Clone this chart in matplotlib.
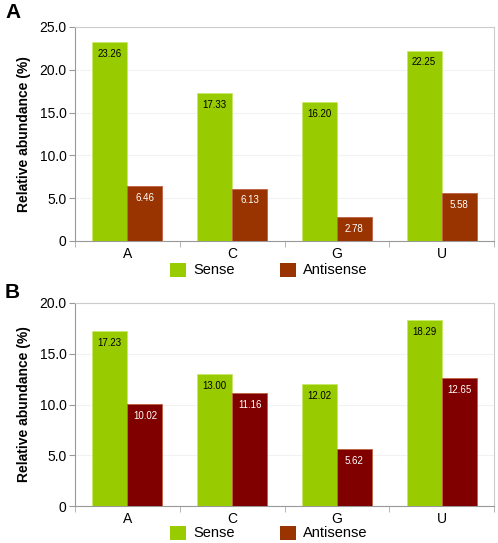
import matplotlib.pyplot as plt
import numpy as np
from matplotlib.patches import Patch

plt.rcParams.update({'font.family': 'Liberation Sans', 'font.size': 10})

# datos
bases = ['A', 'C', 'G', 'U']
sense_a = [23.26, 17.33, 16.20, 22.25]
antisense_a = [6.46, 6.13, 2.78, 5.58]
sense_b = [17.23, 13.00, 12.02, 18.29]
antisense_b = [10.02, 11.16, 5.62, 12.65]

verde = '#99cc00'
marron = '#993300'
granate = '#800000'

fig = plt.figure(figsize=(4.98, 5.43), dpi=100)
W, H = 498, 543


def panel(rect_px, sense, antisense, col_anti, ymax, letra, letra_y, leg_y):
    x0, y0, x1, y1 = rect_px
    ax = fig.add_axes([x0 / W, 1 - y1 / H, (x1 - x0) / W, (y1 - y0) / H])
    x = np.arange(len(bases))
    w = 0.335
    ax.bar(x - w / 2, sense, w, color=verde, edgecolor='#c8e86a', linewidth=0.6, zorder=3)
    ax.bar(x + w / 2, antisense, w, color=col_anti, edgecolor='#c06040', linewidth=0.6, zorder=3)
    for i in range(len(bases)):
        ax.annotate(f'{sense[i]:.2f}', (x[i] - w / 2, sense[i]), xytext=(0, -5),
                    textcoords='offset points', ha='center', va='top', fontsize=7,
                    color='black', zorder=4)
        ax.annotate(f'{antisense[i]:.2f}', (x[i] + w / 2, antisense[i]), xytext=(0, -5),
                    textcoords='offset points', ha='center', va='top', fontsize=7,
                    color='white', zorder=4)
    ax.set_xlim(-0.5, 3.5)
    ax.set_ylim(0, ymax)
    ticks = np.arange(0, ymax + 0.1, 5)
    ax.set_yticks(ticks)
    ax.set_yticklabels(['0'] + [f'{t:.1f}' for t in ticks[1:]])
    ax.set_xticks(x)
    ax.set_xticklabels(bases)
    ax.set_xticks(np.arange(-0.5, 4, 1), minor=True)
    ax.tick_params(axis='x', which='major', length=0, pad=4)
    ax.tick_params(axis='x', which='minor', length=4, color='#aaaaaa')
    ax.tick_params(axis='y', length=4, color='#999999', pad=2)
    ax.grid(axis='y', color='#f2f2f2', linewidth=0.8, zorder=0)
    for s in ['left', 'bottom']:
        ax.spines[s].set_color('#999999')
    for s in ['top', 'right']:
        ax.spines[s].set_color('#cccccc')
    ax.set_ylabel('Relative abundance (%)', fontweight='bold', labelpad=6)
    fig.text(5 / W, 1 - letra_y / H, letra, fontsize=15, fontweight='bold', va='center', ha='left')
    handles = [Patch(facecolor=verde, label='Sense'), Patch(facecolor=marron, label='Antisense')]
    fig.legend(handles=handles, loc='center', bbox_to_anchor=(269 / W, 1 - leg_y / H), ncol=2,
               frameon=False, handlelength=1.1, handleheight=1.1, columnspacing=3.1, handletextpad=0.5,
               fontsize=10.5)
    return ax


panel((75, 27, 494, 241), sense_a, antisense_a, marron, 25, 'A', 12, 270)
panel((75, 303, 494, 506), sense_b, antisense_b, granate, 20, 'B', 292, 533)

fig.savefig('out.png', dpi=100)
